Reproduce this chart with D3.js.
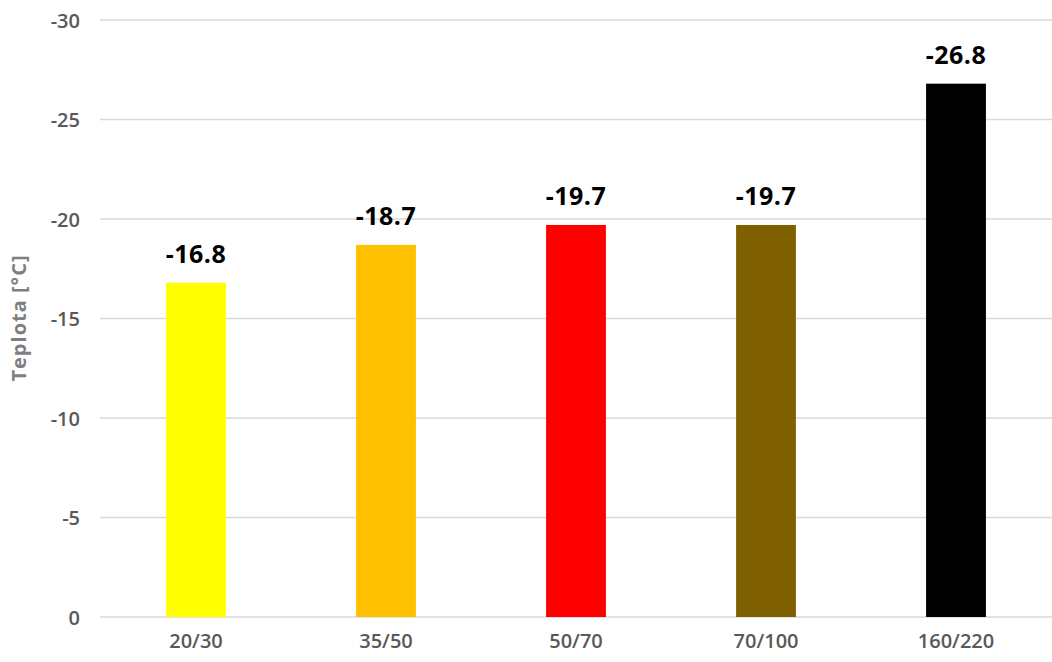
<!DOCTYPE html>
<html><head><meta charset="utf-8">
<script src="https://cdn.jsdelivr.net/npm/d3@7"></script>
<style>body{margin:0;background:#fff}svg{display:block}</style>
</head><body>
<svg id="chart" width="1052" height="662"></svg>
<script>
const categories = ["20/30", "35/50", "50/70", "70/100", "160/220"];
const values = [-16.8, -18.7, -19.7, -19.7, -26.8];
const barColors = ["#FFFF00", "#FFC000", "#FF0000", "#7F6000", "#000000"];
const yTicks = [0, -5, -10, -15, -20, -25, -30];
const yTitle = "Teplota [°C]";

const svg = d3.select("#chart");
const font = "'Open Sans', sans-serif";
const x = d3.scaleBand().domain(categories).range([101, 1051]);
const y = d3.scaleLinear().domain([0, -30]).range([617, 20]);
const barW = x.bandwidth() * 0.315;

// gridlines
svg.append("g").selectAll("line").data(yTicks).join("line")
  .attr("x1", 100).attr("x2", 1052)
  .attr("y1", d => y(d)).attr("y2", d => y(d))
  .attr("stroke", "#d9d9d9").attr("stroke-width", 1.5);

// y axis tick labels
const yAxis = d3.axisLeft(y).tickValues(yTicks).tickSize(0).tickPadding(0).tickFormat(d => d3.format("d")(d).replace("−", "-"));
const gy = svg.append("g").attr("transform", "translate(80,0)").call(yAxis);
gy.select(".domain").remove();
gy.selectAll("text").attr("font-family", font).attr("font-size", 20).attr("font-weight", 600).attr("fill", "#595959").attr("dy", "0.35em");

// x axis labels
const xAxis = d3.axisBottom(x).tickSize(0).tickPadding(0);
const gx = svg.append("g").attr("transform", "translate(0,634)").call(xAxis);
gx.select(".domain").remove();
gx.selectAll("text").attr("font-family", font).attr("font-size", 20).attr("font-weight", 600).attr("fill", "#595959");

// bars
svg.append("g").selectAll("rect").data(values).join("rect")
  .attr("x", (d, i) => x(categories[i]) + x.bandwidth() / 2 - barW / 2)
  .attr("width", barW)
  .attr("y", d => y(d))
  .attr("height", d => y(0) - y(d))
  .attr("fill", (d, i) => barColors[i]);

// value labels
svg.append("g").selectAll("text").data(values).join("text")
  .attr("x", (d, i) => x(categories[i]) + x.bandwidth() / 2)
  .attr("y", d => y(d) - 20)
  .attr("text-anchor", "middle")
  .attr("font-family", font).attr("font-size", 25).attr("font-weight", 700)
  .attr("letter-spacing", 0.5)
  .attr("fill", "#000")
  .text(d => d.toFixed(1));

// y title
svg.append("text")
  .attr("transform", "translate(26,318) rotate(-90)")
  .attr("text-anchor", "middle")
  .attr("font-family", font).attr("font-size", 20).attr("font-weight", 700)
  .attr("letter-spacing", 1)
  .attr("fill", "#7f7f7f")
  .text(yTitle);
</script>
</body></html>
